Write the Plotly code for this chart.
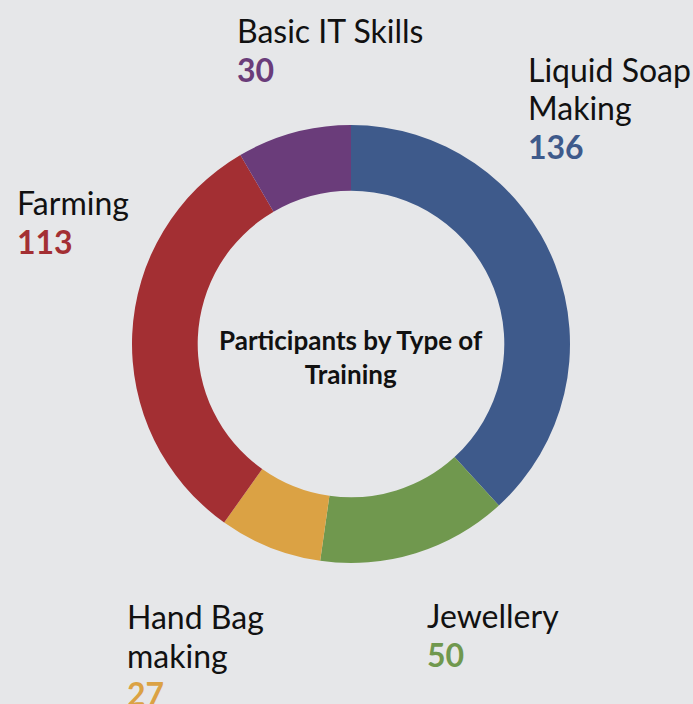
import plotly.graph_objects as go

# Data
trainings = ["Liquid Soap Making", "Jewellery", "Hand Bag making", "Farming", "Basic IT Skills"]
participants = [136, 50, 27, 113, 30]
colors = ["#3e5a8b", "#70984e", "#dba244", "#a32f33", "#6a3c7a"]

# label text lines shown next to the ring (wrapped as in the original)
label_lines = [["Liquid Soap", "Making"], ["Jewellery"], ["Hand Bag", "making"], ["Farming"], ["Basic IT Skills"]]
# left x / cap-top y of the first line of each label block, in pixels
label_pos = [(529, 59), (428, 605), (128, 606), (18, 192), (238, 20)]
line_pitch = 38.5

W, H = 693, 704
bg = "#e6e7e9"
font = "Lato, 'Open Sans', sans-serif"

cx, cy, r = 351, 344, 219

fig = go.Figure()
fig.add_trace(go.Pie(
    labels=trainings,
    values=participants,
    hole=0.70,
    sort=False,
    direction="clockwise",
    rotation=0,
    marker=dict(colors=colors, line=dict(width=0)),
    textinfo="none",
    hoverinfo="label+value",
    showlegend=False,
    domain=dict(x=[(cx - r) / W, (cx + r) / W],
                y=[1 - (cy + r) / H, 1 - (cy - r) / H]),
))


def add_line(px, py, txt, color, bold=False):
    # py is the cap top of the line; the text box starts ~11px above it,
    # and plotly pads the box ~3px on the left
    fig.add_annotation(
        x=(px - 3) / W, y=1 - (py - 11) / H, xref="paper", yref="paper",
        xanchor="left", yanchor="top", align="left",
        text="<b>%s</b>" % txt if bold else txt, showarrow=False,
        font=dict(family=font, size=32, color=color),
    )


for lines, val, col, (px, py) in zip(label_lines, participants, colors, label_pos):
    for i, ln in enumerate(lines):
        add_line(px, py + i * line_pitch, ln, "#111111")
    add_line(px, py + len(lines) * line_pitch, str(val), col, bold=True)

# center title
fig.add_annotation(
    x=cx / W, y=1 - 357 / H, xref="paper", yref="paper",
    xanchor="center", yanchor="middle", align="center",
    text="<b>Participants by Type of<br>Training</b>", showarrow=False,
    font=dict(family=font, size=26, color="#111111"),
)

fig.update_layout(
    width=W, height=H,
    margin=dict(l=0, r=0, t=0, b=0),
    paper_bgcolor=bg, plot_bgcolor=bg,
    font=dict(family=font),
)

fig.write_html("out.html", config={"displayModeBar": False},
               post_script="document.body.style.margin='0';")
